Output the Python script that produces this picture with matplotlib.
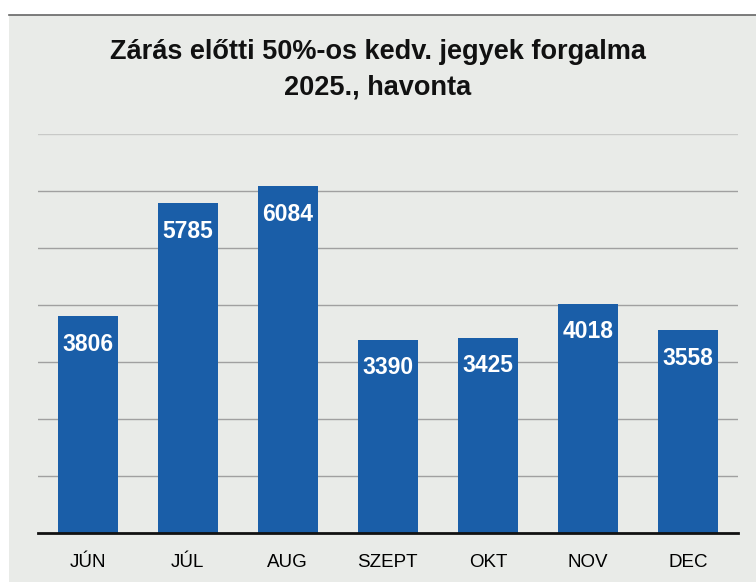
import matplotlib
matplotlib.use("Agg")
import matplotlib.pyplot as plt

plt.rcParams["font.family"] = ["Liberation Sans", "DejaVu Sans"]

MONTHS = ["JÚN", "JÚL", "AUG", "SZEPT", "OKT", "NOV", "DEC"]
VALUES = [3806, 5785, 6084, 3390, 3425, 4018, 3558]
TITLE = "Zárás előtti 50%-os kedv. jegyek forgalma\n2025., havonta"

BAR_COLOR = "#1a5ea8"
BG = "#e9ebe8"

fig = plt.figure(figsize=(7.56, 5.82), dpi=100, facecolor="white")
# scanned page background
fig.patches.append(plt.Rectangle((0.012, 0), 0.988, 0.975, transform=fig.transFigure,
                                 facecolor=BG, edgecolor="none", zorder=-10))
fig.add_artist(plt.Line2D([0.012, 1.0], [0.975, 0.975], color="#666666", lw=1.2))

ax = fig.add_axes([0.050, 0.084, 0.926, 0.686])
ax.set_facecolor("none")

x = range(len(MONTHS))
bars = ax.bar(x, VALUES, width=0.6, color=BAR_COLOR, zorder=3)

for rect, v in zip(bars, VALUES):
    ax.annotate(f"{v}", (rect.get_x() + rect.get_width() / 2, v),
                xytext=(0, -28), textcoords="offset pixels",
                ha="center", va="center", color="white", fontsize=16.5,
                fontweight="bold", zorder=4)

ax.set_xlim(-0.5, 6.5)
ax.set_ylim(0, 7000)
ax.set_yticks(range(1000, 8000, 1000))
ax.yaxis.grid(True, color="#a0a0a0", lw=1.0, zorder=0)
ax.get_ygridlines()[-1].set_alpha(0.45)
ax.tick_params(axis="y", left=False, labelleft=False)
ax.tick_params(axis="x", length=0, pad=15, labelsize=13.5)
ax.set_xticks(list(x))
ax.set_xticklabels(MONTHS)

for side in ["top", "right", "left"]:
    ax.spines[side].set_visible(False)
ax.spines["bottom"].set_color("#111111")
ax.spines["bottom"].set_linewidth(2.0)
ax.spines["bottom"].set_zorder(5)

fig.text(0.5, 0.880, TITLE, ha="center", va="center", fontsize=19.5,
         fontweight="bold", linespacing=1.5, color="#111111")

fig.savefig("out.png", dpi=100, facecolor=fig.get_facecolor())
